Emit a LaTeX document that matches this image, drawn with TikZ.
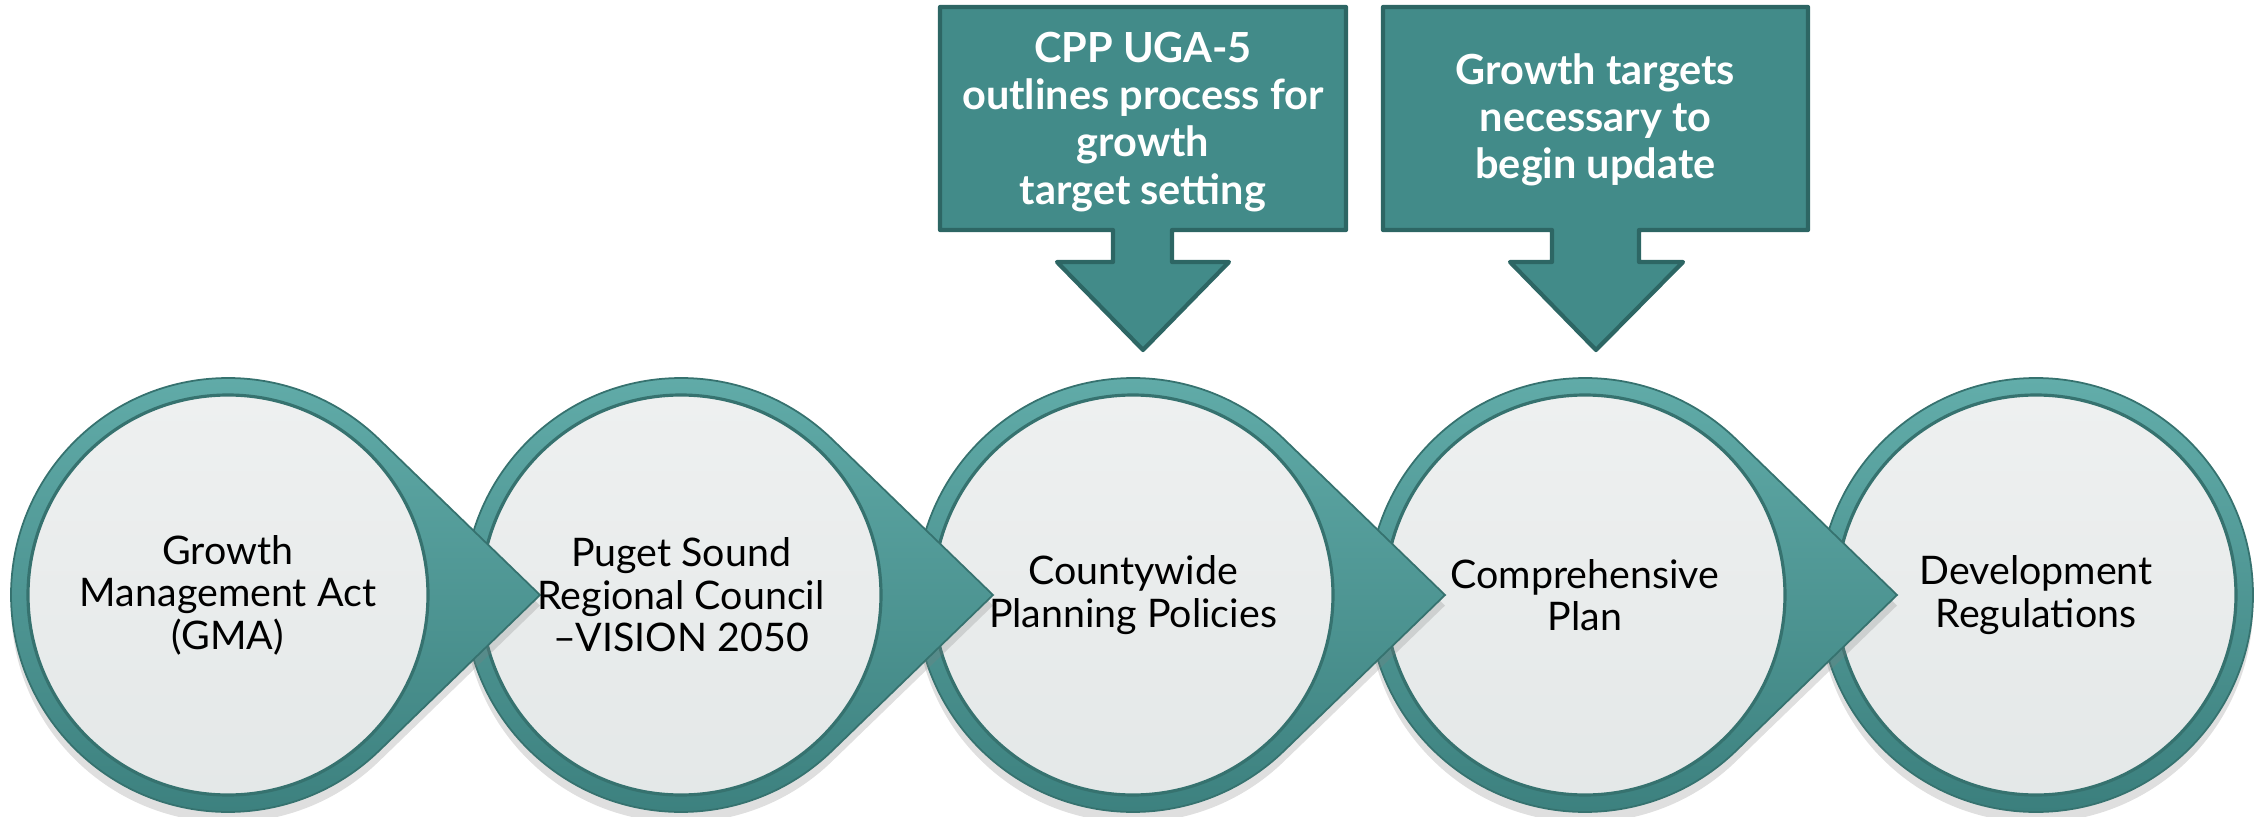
\documentclass[tikz,border=0pt]{standalone}
\usepackage{fontspec}
\setmainfont{Lato}
\usetikzlibrary{shadows}

\definecolor{ringlight}{HTML}{62ADAA}
\definecolor{ringdark}{HTML}{3B7F7D}
\definecolor{ringedge}{HTML}{36726F}
\definecolor{facetop}{HTML}{EEF0F0}
\definecolor{facebottom}{HTML}{E4E8E8}
\definecolor{calloutfill}{HTML}{428B89}
\definecolor{calloutline}{HTML}{2D6664}

\tikzset{
	ring/.style={draw=ringedge, line width=0.5pt, top color=ringlight, bottom color=ringdark,
		drop shadow={shadow xshift=0pt, shadow yshift=-3pt, opacity=0.25}},
	face/.style={draw=ringedge, line width=0.9pt, top color=facetop, bottom color=facebottom},
	stage/.style={align=center, font=\fontsize{11.2}{12.1}\selectfont},
	callout/.style={fill=calloutfill, draw=calloutline, line width=1.2pt, line join=round},
	note/.style={align=center, text=white, font=\bfseries\fontsize{11.8}{13.4}\selectfont}
}

\begin{document}
\begin{tikzpicture}
	\useasboundingbox (0,0) rectangle (22.62,8.16);

	\coordinate (c1) at (2.28,2.21);
	\coordinate (c2) at (6.81,2.21);
	\coordinate (c3) at (11.33,2.21);
	\coordinate (c4) at (15.85,2.21);
	\coordinate (c5) at (20.36,2.21);

	% stages, right to left so every tip lies on the next one
	\draw[ring] (c5) circle (2.17);
	\draw[face] (c5) circle (2.0);
	\draw[ring, shift={(c4)}] (45.9:2.17) arc[start angle=45.9, end angle=314.1, radius=2.17] -- (3.12,0) -- cycle;
	\draw[face] (c4) circle (2.0);
	\draw[ring, shift={(c3)}] (45.9:2.17) arc[start angle=45.9, end angle=314.1, radius=2.17] -- (3.12,0) -- cycle;
	\draw[face] (c3) circle (2.0);
	\draw[ring, shift={(c2)}] (45.9:2.17) arc[start angle=45.9, end angle=314.1, radius=2.17] -- (3.12,0) -- cycle;
	\draw[face] (c2) circle (2.0);
	\draw[ring, shift={(c1)}] (45.9:2.17) arc[start angle=45.9, end angle=314.1, radius=2.17] -- (3.12,0) -- cycle;
	\draw[face] (c1) circle (2.0);

	\node[stage] (gma) at (c1) {Growth\\Management Act\\(GMA)};
	\node[stage] (psrc) at (c2) {Puget Sound\\Regional Council\\–VISION 2050};
	\node[stage] (cpp) at (c3) {Countywide\\Planning Policies};
	\node[stage] (plan) at (c4) {Comprehensive\\Plan};
	\node[stage] (regs) at (c5) {Development\\Regulations};

	% callouts
	\draw[callout] (9.40,8.09) -- (13.46,8.09) -- (13.46,5.86) -- (11.72,5.86) -- (11.72,5.54) -- (12.29,5.54)
		-- (11.43,4.66) -- (10.57,5.54) -- (11.13,5.54) -- (11.13,5.86) -- (9.40,5.86) -- cycle;
	\draw[callout] (13.83,8.09) -- (18.08,8.09) -- (18.08,5.86) -- (16.39,5.86) -- (16.39,5.54) -- (16.83,5.54)
		-- (15.96,4.66) -- (15.10,5.54) -- (15.52,5.54) -- (15.52,5.86) -- (13.83,5.86) -- cycle;

	\node[note] (uga) at (11.43,6.94) {CPP UGA-5\\outlines process for\\growth\\target setting};
	\node[note] (targets) at (15.955,6.96) {Growth targets\\necessary to\\begin update};

\end{tikzpicture}
\end{document}
